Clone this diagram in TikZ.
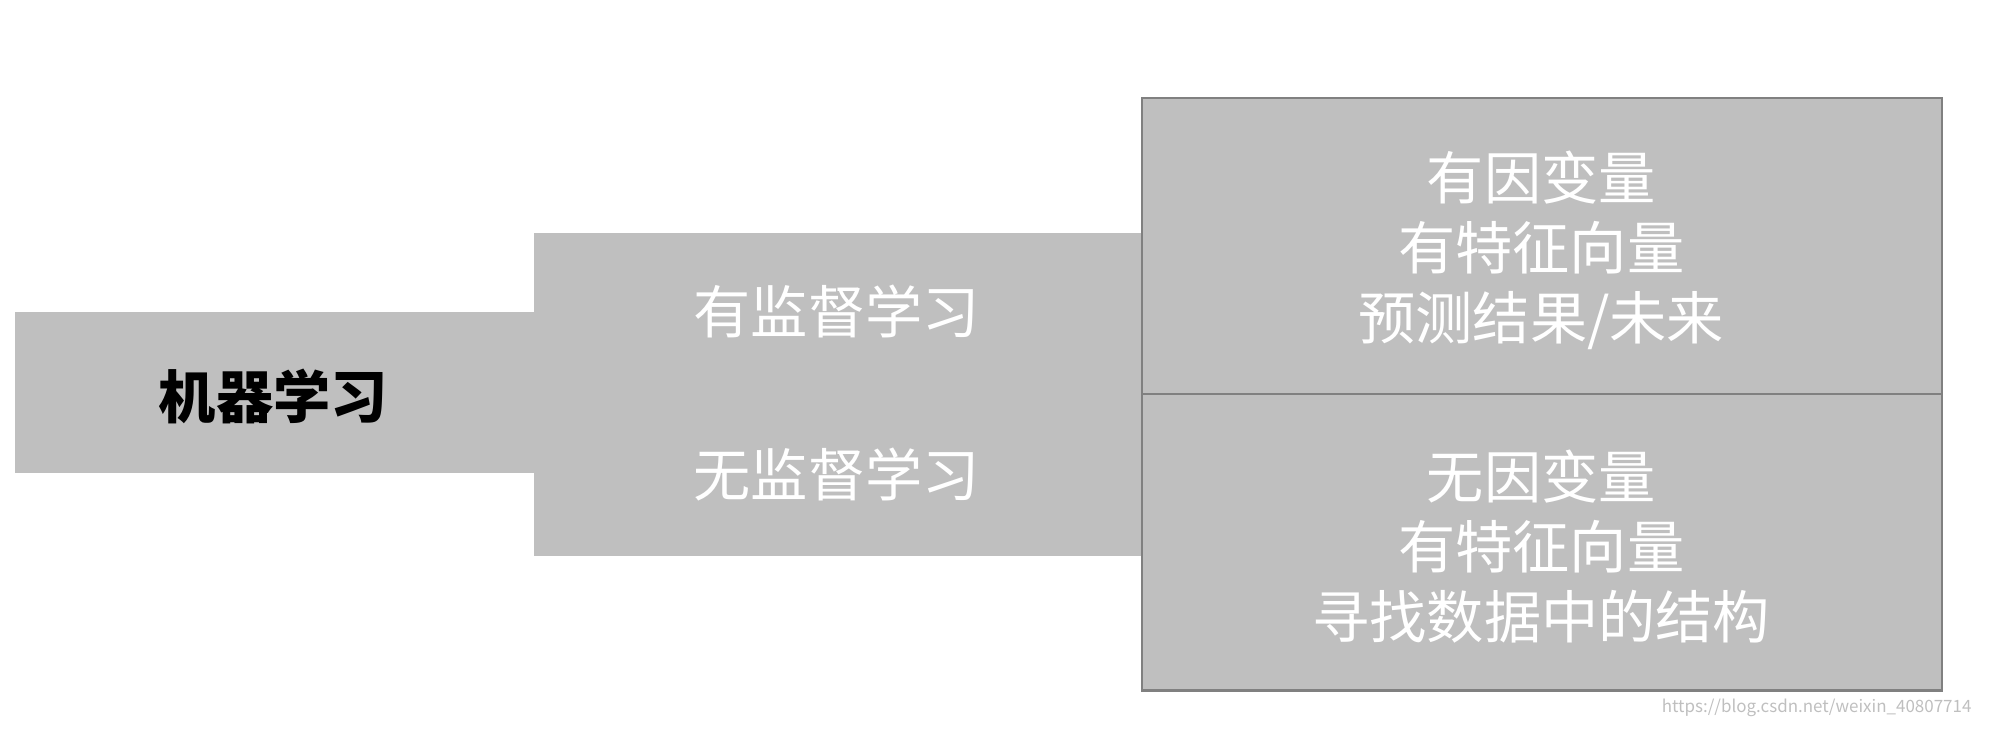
\documentclass[tikz,border=0pt]{standalone}
\usepackage{fontspec}
\setmainfont{Noto Sans CJK SC}
\begin{document}
\begin{tikzpicture}[x=0.3pt,y=-0.3pt,
  blk/.style={fill=boxgray,draw=none,inner sep=0},
  rbox/.style={fill=boxgray,draw=edgegray,line width=0.6pt},
  wt/.style={text=white,font=\fontsize{13.5pt}{16.5pt}\selectfont,align=center},
]
\definecolor{boxgray}{HTML}{BFBFBF}
\definecolor{edgegray}{HTML}{808080}
\useasboundingbox (0,0) rectangle (1568,573);
\fill[boxgray] (12,245) rectangle (421,372);
\fill[boxgray] (420,183) rectangle (899,437);
\draw[rbox] (898,77) rectangle (1527,310);
\draw[rbox] (898,310) rectangle (1527,543);
\node (ml) at (215,312) {\fontsize{13.5pt}{16pt}\selectfont\bfseries 机器学习};
\node[wt] (sup) at (658,245) {有监督学习};
\node[wt] (uns) at (658,373) {无监督学习};
\node[wt] (t1) at (1212,197) {有因变量\\有特征向量\\预测结果/未来};
\node[wt] (t2) at (1212,430) {无因变量\\有特征向量\\寻找数据中的结构};
\node[text=gray!50,font=\fontsize{4pt}{5pt}\selectfont,anchor=east] (wm) at (1562,557) {https://blog.csdn.net/weixin\_40807714};
\end{tikzpicture}
\end{document}
